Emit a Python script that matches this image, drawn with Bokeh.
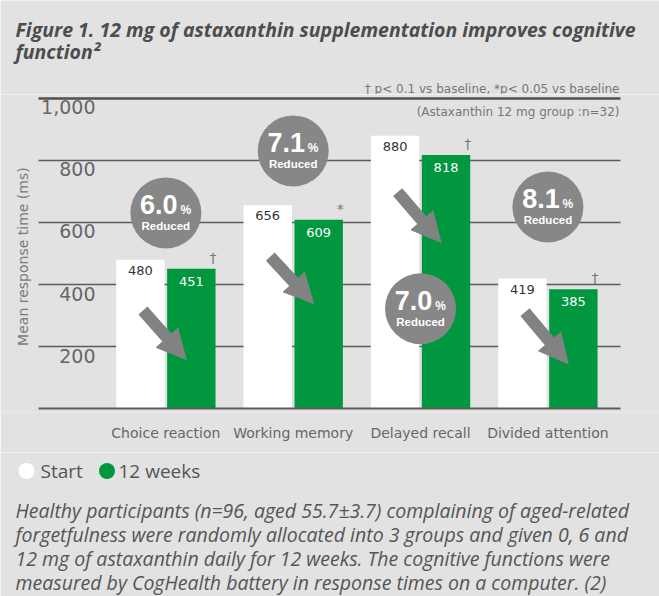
import math
from bokeh.plotting import figure
from bokeh.layouts import column
from bokeh.models import Range1d, FixedTicker, ColumnDataSource, Arrow, NormalHead
from bokeh.core.properties import value
from bokeh.embed import file_html
from bokeh.resources import INLINE

# ---------------- data ----------------
categories = ["Choice reaction", "Working memory", "Delayed recall", "Divided attention"]
start_ms = [480, 656, 880, 419]
week12_ms = [451, 609, 818, 385]
significance = ["†", "*", "†", "†"]
reduced_pct = ["6.0", "7.1", "7.0", "8.1"]
y_ticks = [200, 400, 600, 800, 1000]
y_tick_labels = ["200", "400", "600", "800", "1,000"]
series_labels = ["Start", "12 weeks"]

title_lines = ["Figure 1. 12 mg of astaxanthin supplementation improves cognitive",
               "function\u00b2"]
note_sig = "\u2020 p< 0.1 vs baseline, *p< 0.05 vs baseline"
note_group = "(Astaxanthin 12 mg group :n=32)"
y_label = "Mean response time (ms)"
caption_lines = [
    "Healthy participants (n=96, aged 55.7\u00b13.7) complaining of aged-related",
    "forgetfulness were randomly allocated into 3 groups and given 0, 6 and",
    "12 mg of astaxanthin daily for 12 weeks. The cognitive functions were",
    "measured by CogHealth battery in response times on a computer. (2)",
]

# annotation placement (data units of the chart)
badge_y = [631, 831, 322, 650]
arrow_tail_y = [316, 490, 698, 311]
arrow_tip_y = [158, 339, 536, 144]

# ---------------- style / layout ----------------
BG = "#e2e2e2"
GREEN = "#00973f"
BADGE = "#878787"
ARROW = "#828282"
GRID = "#5c5c5c"
TXT = "#555555"
W = 659
H_TOP, H_CHART, H_BOT = 94, 358, 144
PLOT_L, PLOT_R = 38, 620          # pixel extent of the grid lines
X_END = 4.57                      # data x at right end of grid lines
PX = (PLOT_R - PLOT_L) / X_END    # pixels per category unit

xc = [i + 1 for i in range(len(categories))]


def blank_fig(h):
    f = figure(width=W, height=h, x_range=Range1d(0, W), y_range=Range1d(h, 0),
               title=None, x_axis_type=None, y_axis_type=None, output_backend="svg",
               toolbar_location=None, min_border=0, min_border_left=0, min_border_right=0,
               min_border_top=0, min_border_bottom=0, background_fill_color=BG,
               border_fill_color=BG, outline_line_color=None)
    return f


# ---------------- top (title + note) ----------------
top = blank_fig(H_TOP)
top.text(x=[15, 15], y=[29, 51], text=title_lines, text_font=value("Open Sans"),
         text_font_style="bold italic", text_font_size="19.5px", text_color="#4d4d4d",
         text_baseline="middle", text_align="left")
top.text(x=[619], y=[88], text=[note_sig], text_font=value("DejaVu Sans"),
         text_font_size="12px", text_color="#777777", text_align="right",
         text_baseline="middle")

# ---------------- chart ----------------
p = figure(width=W, height=H_CHART, title=None,
           x_range=Range1d(-PLOT_L / PX, (W - PLOT_L) / PX),
           y_range=Range1d(-12.9, 1012.9), y_axis_type=None,
           output_backend="svg", toolbar_location=None, min_border=0,
           min_border_left=0, min_border_right=0, min_border_top=0, min_border_bottom=40,
           background_fill_color=BG, border_fill_color=BG, outline_line_color=None)
p.grid.visible = False

p.xaxis.ticker = FixedTicker(ticks=xc)
p.xaxis.major_label_overrides = {x: c for x, c in zip(xc, categories)}
p.xaxis.major_label_text_font = "DejaVu Sans"
p.xaxis.major_label_text_font_size = "14px"
p.xaxis.major_label_text_color = "#666666"
p.xaxis.major_label_standoff = 12
p.xaxis.axis_line_color = None
p.xaxis.major_tick_line_color = None
p.xaxis.minor_tick_line_color = None
p.xaxis.major_tick_out = 0

# horizontal grid lines (under the bars), limited to the plotting width
grid_y = y_ticks[:-1]
p.segment(x0=[0] * len(grid_y), x1=[X_END] * len(grid_y), y0=grid_y, y1=grid_y,
          line_color=GRID, line_width=1.5)

# y tick labels, right-aligned below each grid line
p.text(x=[0] * len(y_ticks), y=y_ticks, text=y_tick_labels,
       x_offset=57, y_offset=2, text_align="right", text_baseline="top",
       text_font=value("DejaVu Sans"), text_font_size="19px", text_color="#666666")

# y axis title
p.text(x=[0], y=[490], text=[y_label], angle=math.pi / 2, x_offset=-16,
       text_align="center", text_baseline="middle", text_font=value("DejaVu Sans"),
       text_font_size="14px", text_color="#7a7a7a")

src = ColumnDataSource(dict(
    xs=[x - 0.2 for x in xc], xw=[x + 0.2 for x in xc], xm=[x + 0.37 for x in xc],
    start=start_ms, week12=week12_ms,
    start_lbl=[str(v) for v in start_ms], week_lbl=[str(v) for v in week12_ms],
    sig=significance,
))
p.vbar(x="xs", top="start", width=0.38, fill_color="white", line_color=None, source=src)
p.vbar(x="xw", top="week12", width=0.38, fill_color=GREEN, line_color=None, source=src)

# baseline and top line (over the bars)
p.segment(x0=[0, 0], x1=[X_END, X_END], y0=[0, y_ticks[-1]], y1=[0, y_ticks[-1]],
          line_color=["#5c5c5c", "#505050"], line_width=[2, 2.5])

p.text(x="xs", y="start", text="start_lbl", source=src, y_offset=6, text_align="center",
       text_baseline="top", text_font=value("DejaVu Sans"), text_font_size="13px",
       text_color="#333333")
p.text(x="xw", y="week12", text="week_lbl", source=src, y_offset=8, text_align="center",
       text_baseline="top", text_font=value("DejaVu Sans"), text_font_size="13px",
       text_color="white")
p.text(x="xm", y="week12", text="sig", source=src, y_offset=-11, text_align="center",
       text_baseline="middle", text_font=value("DejaVu Sans"), text_font_size="14px",
       text_color="#777777")

bsrc = ColumnDataSource(dict(x=xc, y=badge_y, pct=reduced_pct, sign=["%"] * 4,
                             word=["Reduced"] * 4))
p.scatter(x="x", y="y", source=bsrc, marker="circle", size=71, fill_color=BADGE,
          line_color=None)
p.text(x="x", y="y", text="pct", source=bsrc, x_offset=-7, y_offset=-8,
       text_align="center", text_baseline="middle", text_font=value("Liberation Sans"),
       text_font_style="bold", text_font_size="27px", text_color="white")
p.text(x="x", y="y", text="sign", source=bsrc, x_offset=20, y_offset=-3,
       text_align="center", text_baseline="middle", text_font=value("Liberation Sans"),
       text_font_style="bold", text_font_size="12px", text_color="white")
p.text(x="x", y="y", text="word", source=bsrc, x_offset=0, y_offset=13,
       text_align="center", text_baseline="middle", text_font=value("Liberation Sans"),
       text_font_style="bold", text_font_size="11.5px", text_color="white")

asrc = ColumnDataSource(dict(x0=[x - 0.18 for x in xc], y0=arrow_tail_y,
                             x1=[x + 0.16 for x in xc], y1=arrow_tip_y))
p.add_layout(Arrow(source=asrc, x_start="x0", y_start="y0", x_end="x1", y_end="y1",
                   line_color=ARROW, line_width=12,
                   end=NormalHead(size=29, fill_color=ARROW, line_color=ARROW, line_width=1)))

p.text(x=[X_END], y=[958], text=[note_group], x_offset=-1, text_align="right",
       text_baseline="middle", text_font=value("DejaVu Sans"), text_font_size="12px",
       text_color="#777777")

# ---------------- bottom (legend + caption) ----------------
bot = blank_fig(H_BOT)
bot.scatter(x=[26, 106.5], y=[18.5, 18.5], marker="circle", size=16,
            fill_color=["white", GREEN], line_color=None)
bot.text(x=[40, 118], y=[18, 18], text=series_labels, text_font=value("Open Sans"),
         text_font_size="19px", text_color=TXT, text_baseline="middle",
         text_align="left")
bot.text(x=[15] * len(caption_lines), y=[58, 82, 106, 130], text=caption_lines,
         text_font=value("Open Sans"), text_font_style="italic", text_font_size="19.5px",
         text_color=TXT, text_baseline="middle", text_align="left")

layout = column(top, p, bot, spacing=0)
open("out.html", "w").write(file_html(layout, INLINE))
